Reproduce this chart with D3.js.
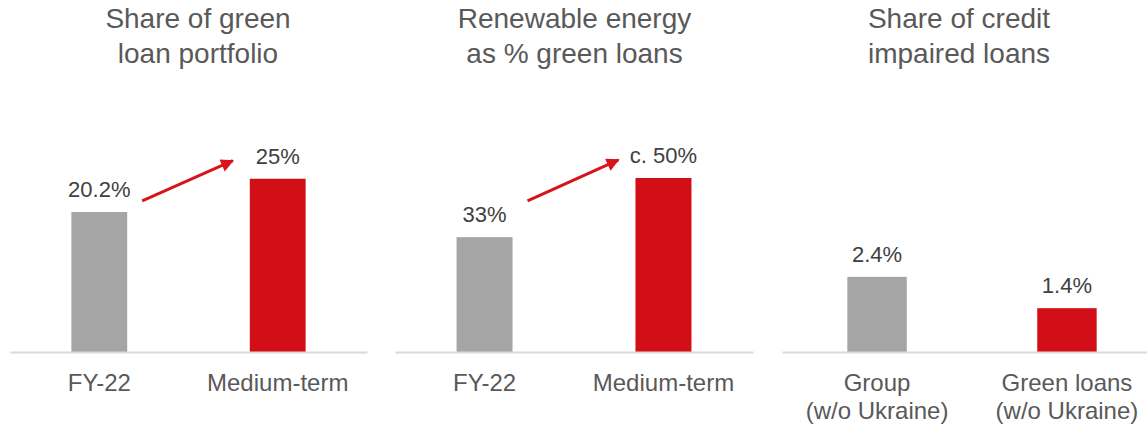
<!DOCTYPE html>
<html>
<head>
<meta charset="utf-8">
<script src="https://cdn.jsdelivr.net/npm/d3@7"></script>
<style>
  html, body { margin: 0; padding: 0; background: #ffffff; }
  svg { display: block; font-family: Arial, "Liberation Sans", Helvetica, sans-serif; }
</style>
</head>
<body>
<svg id="chart" width="1147" height="429"></svg>
<script>
// ---- data -------------------------------------------------------------
const panelTitles = [
  ["Share of green", "loan portfolio"],
  ["Renewable energy", "as % green loans"],
  ["Share of credit", "impaired loans"]
];
const categoriesGreenShare = ["FY-22", "Medium-term"];
const categoriesRenewable  = ["FY-22", "Medium-term"];
const categoriesImpaired   = ["Group\n(w/o Ukraine)", "Green loans\n(w/o Ukraine)"];

const valuesGreenShare = [20.2, 25];
const valuesRenewable  = [33, 50];
const valuesImpaired   = [2.4, 1.4];

const labelsGreenShare = ["20.2%", "25%"];
const labelsRenewable  = ["33%", "c. 50%"];
const labelsImpaired   = ["2.4%", "1.4%"];

// value-axis maximum of each panel (each panel has its own scale)
const axisMax = [28.86, 57.47, 6.39];

// growth arrows: start / end height in each panel's own units
const arrowFrom = [21.8, 43.4];
const arrowTo   = [27.6, 55.2];

// ---- layout -----------------------------------------------------------
const baseline = 352, plotH = 200;
const panelLayout = [
  { x0: 10,  x1: 367,  titleX: 198 },
  { x0: 395, x1: 753,  titleX: 574.5 },
  { x0: 782, x1: 1162, titleX: 959 }
];
const grey = "#a5a5a5", red = "#d20f17", arrowRed = "#d7141c";

const panels = [
  { cats: categoriesGreenShare, vals: valuesGreenShare, labels: labelsGreenShare },
  { cats: categoriesRenewable,  vals: valuesRenewable,  labels: labelsRenewable },
  { cats: categoriesImpaired,   vals: valuesImpaired,   labels: labelsImpaired }
];

const svg = d3.select("#chart");

svg.append("defs").append("marker")
  .attr("id", "arrowhead")
  .attr("viewBox", "0 0 10 10")
  .attr("refX", 9).attr("refY", 5)
  .attr("markerUnits", "userSpaceOnUse")
  .attr("markerWidth", 15).attr("markerHeight", 13)
  .attr("orient", "auto")
  .append("path")
  .attr("d", "M0,0 L10,5 L0,10 Z")
  .attr("fill", arrowRed);

panels.forEach((p, i) => {
  const lay = panelLayout[i];
  const g = svg.append("g");

  const x = d3.scaleBand()
    .domain(p.cats)
    .range([lay.x0, lay.x1])
    .paddingInner(0.687)
    .paddingOuter(0.344);

  const y = d3.scaleLinear()
    .domain([0, axisMax[i]])
    .range([baseline, baseline - plotH]);

  // title
  const title = g.append("text")
    .attr("text-anchor", "middle")
    .attr("font-size", 28)
    .attr("fill", "#595959");
  panelTitles[i].forEach((line, k) => {
    title.append("tspan").attr("x", lay.titleX).attr("y", 28 + k * 35).text(line);
  });

  // bars
  g.selectAll("rect.bar")
    .data(p.vals)
    .join("rect")
    .attr("class", "bar")
    .attr("x", (d, k) => x(p.cats[k]))
    .attr("width", x.bandwidth())
    .attr("y", d => y(d))
    .attr("height", d => y(0) - y(d))
    .attr("fill", (d, k) => k === 0 ? grey : red);

  // value labels
  g.selectAll("text.val")
    .data(p.vals)
    .join("text")
    .attr("class", "val")
    .attr("text-anchor", "middle")
    .attr("font-size", 22)
    .attr("fill", "#404040")
    .attr("x", (d, k) => x(p.cats[k]) + x.bandwidth() / 2)
    .attr("y", d => y(d) - 15)
    .text((d, k) => p.labels[k]);

  // category axis
  const axis = g.append("g")
    .attr("transform", `translate(0,${baseline})`)
    .call(d3.axisBottom(x).tickSize(0).tickSizeOuter(0));
  axis.select(".domain").attr("stroke", "#d9d9d9").attr("stroke-width", 2);
  axis.selectAll(".tick text").each(function (d) {
    const t = d3.select(this)
      .attr("font-size", 24)
      .attr("font-family", "Arial, 'Liberation Sans', Helvetica, sans-serif")
      .attr("fill", "#595959")
      .attr("dy", null)
      .attr("y", null)
      .text(null);
    d.split("\n").forEach((line, k) => {
      t.append("tspan").attr("x", 0).attr("y", 39 + k * 28).text(line);
    });
  });

  // growth arrow
  if (i < arrowFrom.length) {
    g.append("line")
      .attr("x1", x(p.cats[0]) + x.bandwidth() + 15)
      .attr("y1", y(arrowFrom[i]))
      .attr("x2", x(p.cats[1]) - 17)
      .attr("y2", y(arrowTo[i]))
      .attr("stroke", arrowRed)
      .attr("stroke-width", 3)
      .attr("marker-end", "url(#arrowhead)");
  }
});
</script>
</body>
</html>
